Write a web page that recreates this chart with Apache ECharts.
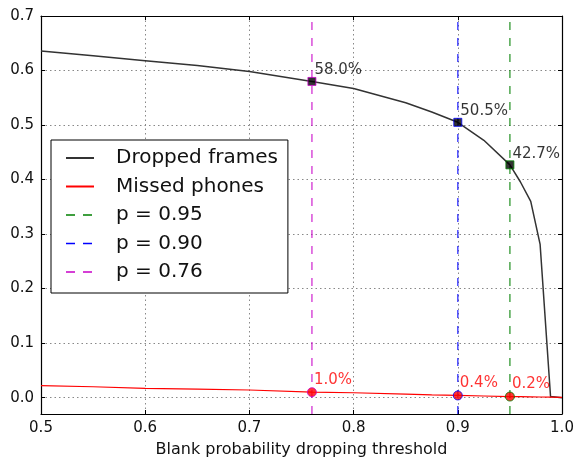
<!DOCTYPE html>
<html lang="en">
  <head>
    <meta charset="UTF-8">
    <title>Blank probability dropping threshold</title>
    <style>
      html, body { margin: 0; padding: 0; background: #fff; }
      .chart { width: 574px; height: 461px; }
    </style>
  </head>
  <body>
    <div id="chart" class="chart"></div>

    <script src="https://cdn.jsdelivr.net/npm/echarts@6/dist/echarts.min.js"></script>
    <script type="text/javascript">
      // threshold values on the x axis
      var thresholds = [0.5, 0.55, 0.6, 0.65, 0.7, 0.76, 0.8, 0.85, 0.875, 0.9, 0.925, 0.95, 0.96, 0.97, 0.979, 0.989, 1.0];
      // fraction of dropped frames / missed phones at each threshold
      var droppedFrames = [0.636, 0.627, 0.618, 0.609, 0.598, 0.580, 0.567, 0.541, 0.524, 0.505, 0.472, 0.427, 0.396, 0.360, 0.281, 0.002, 0.0];
      var missedPhones = [0.022, 0.020, 0.017, 0.0155, 0.014, 0.010, 0.009, 0.0065, 0.005, 0.004, 0.003, 0.002, 0.0018, 0.0015, 0.0012, 0.001, 0.0005];

      // chosen operating points
      var pointNames = ['p = 0.95', 'p = 0.90', 'p = 0.76'];
      var pointP = [0.95, 0.90, 0.76];
      var pointDropped = [0.427, 0.505, 0.580];
      var pointMissed = [0.002, 0.004, 0.010];
      var pointColors = ['#008000', '#0000ff', '#c800c8'];

      var yMin = -0.03, yMax = 0.7;
      var font = 'DejaVu Sans';

      function pairs(xs, ys) {
        return xs.map(function (x, i) { return [x, ys[i]]; });
      }
      function pct(v) {
        return (v * 100).toFixed(1) + '%';
      }

      var myChart = echarts.init(document.getElementById('chart'));

      var series = [{
        name: 'Dropped frames',
        type: 'line',
        symbol: 'none',
        data: pairs(thresholds, droppedFrames),
        lineStyle: { color: '#333', width: 1.5 },
        itemStyle: { color: '#333' },
        z: 3
      }, {
        name: 'Missed phones',
        type: 'line',
        symbol: 'none',
        data: pairs(thresholds, missedPhones),
        lineStyle: { color: '#ff0000', width: 1.2 },
        itemStyle: { color: '#ff0000' },
        z: 3
      }];

      // vertical dashed lines
      pointP.forEach(function (p, i) {
        series.push({
          name: pointNames[i],
          type: 'line',
          symbol: 'none',
          data: [[p, yMin], [p, yMax]],
          lineStyle: { color: pointColors[i], width: 1.5, type: [8, 8], opacity: 0.7 },
          itemStyle: { color: pointColors[i] },
          z: 2
        });
      });

      // square markers on dropped frames
      series.push({
        name: 'droppedPts',
        type: 'scatter',
        symbol: 'rect',
        symbolSize: 8,
        data: pointP.map(function (p, i) {
          return { value: [p, pointDropped[i]], itemStyle: { color: '#000', borderColor: pointColors[i], borderWidth: 1 } };
        }),
        label: {
          show: true,
          position: [7, -14],
          color: '#000',
          fontFamily: font,
          fontSize: 15,
          formatter: function (d) { return pct(d.value[1]); }
        },
        z: 5
      });

      // round markers on missed phones
      series.push({
        name: 'missedPts',
        type: 'scatter',
        symbol: 'circle',
        symbolSize: 9,
        data: pointP.map(function (p, i) {
          return { value: [p, pointMissed[i]], itemStyle: { color: '#ff0000', borderColor: pointColors[i], borderWidth: 1 } };
        }),
        label: {
          show: true,
          position: [7, -15],
          color: '#ff0000',
          fontFamily: font,
          fontSize: 15,
          formatter: function (d) { return pct(d.value[1]); }
        },
        z: 5
      });

      var gridLine = { show: true, lineStyle: { color: '#888', width: 1, type: [1.5, 3] } };
      var boxLine = { show: true, onZero: false, lineStyle: { color: '#000', width: 1.2 } };
      var inTick = { show: true, inside: true, length: 4, lineStyle: { color: '#000' } };

      var legendData = [
        { name: 'Dropped frames' },
        { name: 'Missed phones' }
      ].concat(pointNames.map(function (n) {
        return { name: n, lineStyle: { type: [9, 8], opacity: 1, width: 1.5 } };
      }));

      option = {
        backgroundColor: '#fff',
        animation: false,
        textStyle: { fontFamily: font },
        grid: { left: 41, right: 12, top: 16, bottom: 47, outerBoundsMode: 'none' },
        legend: {
          data: legendData,
          orient: 'vertical',
          left: 51,
          top: 140,
          padding: [7, 10, 10, 14],
          itemWidth: 28,
          itemHeight: 14,
          itemGap: 6.5,
          itemStyle: { opacity: 0 },
          borderColor: '#000',
          borderWidth: 1,
          backgroundColor: '#fff',
          selectedMode: false,
          textStyle: { fontFamily: font, fontSize: 20, color: '#111', lineHeight: 22, padding: [0, 0, 0, 17] },
          z: 10
        },
        xAxis: [{
          type: 'value',
          min: 0.5,
          max: 1.0,
          interval: 0.1,
          name: 'Blank probability dropping threshold',
          nameLocation: 'middle',
          nameGap: 28,
          nameTextStyle: { fontFamily: font, fontSize: 16, color: '#111' },
          axisLine: boxLine,
          axisTick: inTick,
          axisLabel: { fontFamily: font, fontSize: 15, color: '#111', margin: 7,
            formatter: function (v) { return v.toFixed(1); } },
          splitLine: gridLine
        }, {
          type: 'value',
          position: 'top',
          min: 0.5,
          max: 1.0,
          interval: 0.1,
          axisLine: boxLine,
          axisTick: inTick,
          axisLabel: { show: false },
          splitLine: { show: false }
        }],
        yAxis: [{
          type: 'value',
          min: yMin,
          max: yMax,
          splitNumber: 7,
          axisLine: boxLine,
          axisTick: inTick,
          axisLabel: { fontFamily: font, fontSize: 15, color: '#111', margin: 7, showMinLabel: false,
            formatter: function (v) { return v.toFixed(1); } },
          splitLine: gridLine
        }, {
          type: 'value',
          position: 'right',
          min: yMin,
          max: yMax,
          splitNumber: 7,
          axisLine: boxLine,
          axisTick: inTick,
          axisLabel: { show: false },
          splitLine: { show: false }
        }],
        series: series
      };

      myChart.setOption(option);
    </script>
  </body>
</html>
